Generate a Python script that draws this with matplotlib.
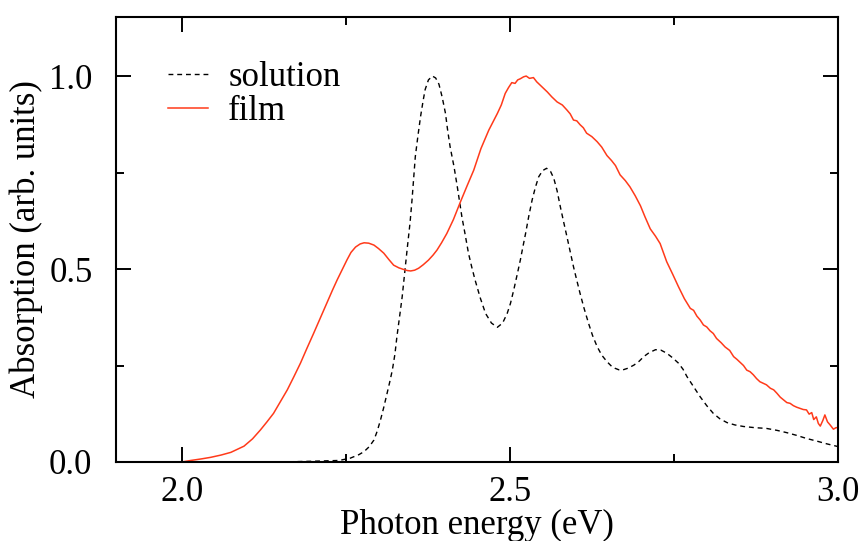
import matplotlib
matplotlib.use("Agg")
import matplotlib.pyplot as plt
from matplotlib.ticker import MultipleLocator

# Photon energy (eV) and normalised absorption of the film
film_energy = [1.900, 1.950, 2.000, 2.014, 2.030, 2.044, 2.060, 2.075, 2.095,
               2.108, 2.120, 2.130, 2.140, 2.150, 2.161, 2.171, 2.181, 2.191,
               2.201, 2.212, 2.222, 2.230, 2.237, 2.245, 2.252, 2.258, 2.265,
               2.272, 2.278, 2.285, 2.293, 2.300, 2.308, 2.316, 2.323, 2.331,
               2.338, 2.344, 2.349, 2.355, 2.361, 2.368, 2.376, 2.383, 2.389,
               2.396, 2.404, 2.414, 2.425, 2.435, 2.445, 2.456, 2.468, 2.475,
               2.481, 2.487, 2.493, 2.498, 2.503, 2.508, 2.512, 2.516, 2.521,
               2.525, 2.530, 2.536, 2.541, 2.549, 2.557, 2.564, 2.572, 2.580,
               2.587, 2.592, 2.597, 2.602, 2.607, 2.612, 2.617, 2.625, 2.633,
               2.640, 2.648, 2.655, 2.661, 2.668, 2.676, 2.683, 2.691, 2.699,
               2.706, 2.714, 2.722, 2.729, 2.739, 2.748, 2.757, 2.766, 2.775,
               2.780, 2.785, 2.790, 2.795, 2.800, 2.805, 2.810, 2.815, 2.822,
               2.828, 2.835, 2.841, 2.846, 2.851, 2.856, 2.861, 2.866, 2.871,
               2.876, 2.881, 2.886, 2.891, 2.897, 2.902, 2.907, 2.912, 2.917,
               2.922, 2.927, 2.932, 2.937, 2.942, 2.947, 2.952, 2.956, 2.960,
               2.963, 2.967, 2.970, 2.973, 2.977, 2.980, 2.984, 2.988, 2.993,
               2.997, 3.000]
film_abs = [0.000, 0.000, 0.000, 0.004, 0.008, 0.012, 0.018, 0.025, 0.041,
            0.060, 0.083, 0.104, 0.126, 0.155, 0.187, 0.221, 0.256, 0.295,
            0.333, 0.376, 0.415, 0.446, 0.472, 0.500, 0.524, 0.543, 0.557,
            0.565, 0.568, 0.567, 0.562, 0.553, 0.541, 0.524, 0.510, 0.503,
            0.499, 0.496, 0.495, 0.497, 0.502, 0.511, 0.523, 0.536, 0.549,
            0.568, 0.592, 0.628, 0.675, 0.716, 0.756, 0.812, 0.860, 0.883,
            0.903, 0.925, 0.955, 0.970, 0.983, 0.981, 0.990, 0.993, 0.998,
            1.000, 0.994, 0.996, 0.985, 0.972, 0.959, 0.946, 0.933, 0.925,
            0.912, 0.902, 0.886, 0.884, 0.874, 0.866, 0.852, 0.843, 0.830,
            0.816, 0.794, 0.781, 0.768, 0.744, 0.729, 0.713, 0.690, 0.664,
            0.635, 0.604, 0.585, 0.566, 0.519, 0.487, 0.454, 0.423, 0.398,
            0.393, 0.378, 0.368, 0.355, 0.350, 0.340, 0.333, 0.320, 0.309,
            0.298, 0.289, 0.273, 0.266, 0.258, 0.250, 0.238, 0.234, 0.226,
            0.216, 0.208, 0.204, 0.200, 0.191, 0.187, 0.178, 0.168, 0.161,
            0.154, 0.152, 0.146, 0.142, 0.139, 0.136, 0.135, 0.124, 0.128,
            0.110, 0.117, 0.100, 0.093, 0.108, 0.122, 0.104, 0.096, 0.085,
            0.089, 0.089]

# Photon energy (eV) and normalised absorption of the solution
sol_energy = [2.150, 2.200, 2.240, 2.257, 2.270, 2.278, 2.286, 2.293, 2.298,
              2.303, 2.308, 2.313, 2.317, 2.321, 2.325, 2.328, 2.332, 2.336,
              2.340, 2.344, 2.348, 2.351, 2.356, 2.360, 2.364, 2.368, 2.371,
              2.376, 2.382, 2.387, 2.392, 2.397, 2.402, 2.405, 2.409, 2.415,
              2.420, 2.427, 2.432, 2.437, 2.442, 2.447, 2.455, 2.463, 2.472,
              2.481, 2.489, 2.496, 2.501, 2.506, 2.511, 2.516, 2.520, 2.524,
              2.529, 2.534, 2.539, 2.544, 2.550, 2.556, 2.562, 2.567, 2.572,
              2.577, 2.582, 2.587, 2.592, 2.597, 2.602, 2.607, 2.613, 2.620,
              2.626, 2.633, 2.640, 2.648, 2.655, 2.660, 2.666, 2.671, 2.680,
              2.689, 2.697, 2.704, 2.712, 2.722, 2.730, 2.739, 2.748, 2.757,
              2.764, 2.770, 2.780, 2.790, 2.800, 2.810, 2.820, 2.831, 2.843,
              2.856, 2.873, 2.891, 2.907, 2.922, 2.937, 2.952, 2.968, 2.983,
              3.000]
sol_abs = [0.000, 0.002, 0.004, 0.010, 0.019, 0.027, 0.040, 0.057, 0.080,
           0.109, 0.142, 0.178, 0.207, 0.238, 0.280, 0.325, 0.376, 0.428,
           0.493, 0.558, 0.620, 0.679, 0.791, 0.845, 0.895, 0.937, 0.965,
           0.990, 1.000, 0.995, 0.979, 0.945, 0.903, 0.863, 0.817, 0.765,
           0.713, 0.635, 0.589, 0.541, 0.505, 0.472, 0.425, 0.385, 0.360,
           0.349, 0.360, 0.385, 0.411, 0.446, 0.484, 0.523, 0.558, 0.592,
           0.638, 0.679, 0.712, 0.739, 0.755, 0.761, 0.753, 0.735, 0.703,
           0.661, 0.622, 0.584, 0.545, 0.506, 0.471, 0.437, 0.399, 0.359,
           0.328, 0.299, 0.277, 0.260, 0.248, 0.243, 0.239, 0.238, 0.243,
           0.251, 0.261, 0.273, 0.283, 0.291, 0.290, 0.282, 0.270, 0.256,
           0.240, 0.221, 0.195, 0.169, 0.146, 0.126, 0.112, 0.102, 0.096,
           0.092, 0.089, 0.087, 0.082, 0.076, 0.069, 0.061, 0.054, 0.047,
           0.040]

x_ticks = [2.0, 2.5, 3.0]
y_ticks = [0.0, 0.5, 1.0]

plt.rcParams["font.family"] = ["Liberation Serif", "DejaVu Serif"]
plt.rcParams["font.size"] = 25

fig = plt.figure(figsize=(8.65, 5.41), dpi=100)
ax = fig.add_axes([116 / 865, 1 - 462 / 541, (838 - 116) / 865, (462 - 17) / 541])

ax.plot(sol_energy, sol_abs, color="black", lw=1.0,
        linestyle=(0, (3.5, 2.8)), label="solution")
ax.plot(film_energy, film_abs, color="#ff3a1a", lw=1.1, label="film")

ax.set_xlim(1.9, 3.0)
ax.set_ylim(0.0, 1.153)
ax.set_xticks(x_ticks)
ax.set_xticklabels([f"{v:.1f}" for v in x_ticks])
ax.set_yticks(y_ticks)
ax.set_yticklabels([f"{v:.1f}" for v in y_ticks])
ax.xaxis.set_minor_locator(MultipleLocator(0.25))
ax.yaxis.set_minor_locator(MultipleLocator(0.25))

ax.tick_params(which="both", direction="in", top=True, right=True, width=1.4)
ax.tick_params(which="major", length=11)
ax.tick_params(which="minor", length=5.5)
ax.tick_params(axis="x", which="major", pad=10)
ax.tick_params(axis="y", which="major", pad=17)
for s in ax.spines.values():
    s.set_linewidth(1.5)

ax.set_xlabel("Photon energy (eV)", labelpad=0)
ax.set_ylabel("Absorption (arb. units)", labelpad=4)

ax.legend(loc="upper left", bbox_to_anchor=(0.053, 0.933), frameon=False,
          handlelength=1.15, handletextpad=0.58, labelspacing=0.05,
          borderaxespad=0.0)

fig.savefig("out.png", dpi=100)
